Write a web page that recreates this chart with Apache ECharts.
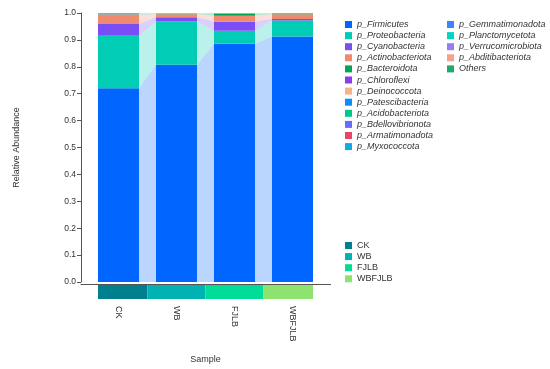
<!DOCTYPE html>
<html><head><meta charset="utf-8">
<script src="https://cdn.jsdelivr.net/npm/echarts@6/dist/echarts.min.js"></script>
<style>html,body{margin:0;padding:0;background:#fff}#c{width:550px;height:369px}</style>
</head><body><div id="c"></div>
<script>
var samples = ['CK','WB','FJLB','WBFJLB'];
var sampleColors = ['#00808F','#00B2B2','#00DD99','#8DE36E'];
var phyla = ['p_Firmicutes','p_Proteobacteria','p_Cyanobacteria','p_Actinobacteriota','p_Bacteroidota','p_Chloroflexi','p_Deinococcota','p_Patescibacteria','p_Acidobacteriota','p_Bdellovibrionota','p_Armatimonadota','p_Myxococcota','p_Gemmatimonadota','p_Planctomycetota','p_Verrucomicrobiota','p_Abditibacteriota','Others'];
var phylaColors = ['#0066FF','#00CDB4','#7A4DF5','#F08A6E','#00A651','#8E3BEA','#F5B38C','#0A8EFF','#00C887','#6A6AFF','#E8456B','#13A8E8','#3D84FF','#00D4C2','#9A7BF5','#F5A090','#1DAA6A'];
// values per phylum, in sample order CK, WB, FJLB, WBFJLB
var Firmicutes        = [0.720, 0.808, 0.886, 0.913];
var Proteobacteria    = [0.195, 0.160, 0.048, 0.059];
var Cyanobacteria     = [0.044, 0.016, 0.034, 0.006];
var Actinobacteriota  = [0.033, 0.011, 0.022, 0.017];
var Bacteroidota      = [0.002, 0.002, 0.007, 0.003];
var Chloroflexi       = [0.001, 0.0005, 0.0005, 0.0003];
var Deinococcota      = [0.001, 0.0004, 0.0003, 0.0002];
var Patescibacteria   = [0.0005, 0.0003, 0.0003, 0.0002];
var Acidobacteriota   = [0.0008, 0.0003, 0.0003, 0.0002];
var Bdellovibrionota  = [0.0005, 0.0002, 0.0002, 0.0001];
var Armatimonadota    = [0.0003, 0.0002, 0.0001, 0.0001];
var Myxococcota       = [0.0004, 0.0002, 0.0002, 0.0001];
var Gemmatimonadota   = [0.0003, 0.0002, 0.0001, 0.0001];
var Planctomycetota   = [0.0003, 0.0001, 0.0001, 0.0001];
var Verrucomicrobiota = [0.0002, 0.0001, 0.0001, 0.0001];
var Abditibacteriota  = [0.0002, 0.0001, 0.0001, 0.0001];
var Others            = [0.0013, 0.0003, 0.0005, 0.0003];
var yTicks = [0.0,0.1,0.2,0.3,0.4,0.5,0.6,0.7,0.8,0.9,1.0];

var values = [Firmicutes,Proteobacteria,Cyanobacteria,Actinobacteriota,Bacteroidota,Chloroflexi,Deinococcota,Patescibacteria,Acidobacteriota,Bdellovibrionota,Armatimonadota,Myxococcota,Gemmatimonadota,Planctomycetota,Verrucomicrobiota,Abditibacteriota,Others];

// cumulative bottoms per phylum per sample
var bottoms = [];
var run = samples.map(function(){return 0;});
for (var p=0;p<values.length;p++){
  bottoms.push(run.slice());
  for (var s=0;s<samples.length;s++) run[s]+=values[p][s];
}
var BAR_FRAC = 0.707;
var FONT = 'Liberation Sans, Arial, sans-serif';

function hexA(hex,a){var n=parseInt(hex.slice(1),16);return 'rgba('+((n>>16)&255)+','+((n>>8)&255)+','+(n&255)+','+a+')';}

var series = [];
// bands between bars
var bandData=[];
for (var g=0; g<samples.length-1; g++) for (var p2=0;p2<phyla.length;p2++) bandData.push([g,p2]);
series.push({
  type:'custom', name:'bands', silent:true, z:1, data:bandData, clip:false,
  renderItem:function(params, api){
    var g=api.value(0), p=api.value(1);
    var catW=api.size([1,0])[0], half=catW*BAR_FRAC/2;
    var a0=api.coord([g,bottoms[p][g]]), a1=api.coord([g,bottoms[p][g]+values[p][g]]);
    var b0=api.coord([g+1,bottoms[p][g+1]]), b1=api.coord([g+1,bottoms[p][g+1]+values[p][g+1]]);
    var xl=a0[0]+half, xr=b0[0]-half;
    return {type:'polygon', shape:{points:[[xl,a0[1]],[xl,a1[1]],[xr,b1[1]],[xr,b0[1]]]},
      style:{fill:hexA(phylaColors[p],0.27), stroke:null}};
  }
});
phyla.forEach(function(name,i){
  series.push({type:'bar', name:name, stack:'all', barWidth:(BAR_FRAC*100)+'%', z:2,
    data:values[i], itemStyle:{color:phylaColors[i]}, emphasis:{disabled:true}});
});
samples.forEach(function(name,i){
  series.push({type:'custom', name:name, clip:false, z:3, itemStyle:{color:sampleColors[i]},
    data:[[i,0]],
    renderItem:function(params, api){
      var c=api.coord([api.value(0),0]);
      var catW=api.size([1,0])[0], half=catW*BAR_FRAC/2;
      var l = (i===0)? c[0]-half : c[0]-catW/2;
      var r = (i===samples.length-1)? c[0]+half : c[0]+catW/2;
      return {type:'rect', shape:{x:l,y:c[1]+2,width:r-l,height:15}, style:{fill:sampleColors[i]}};
    }});
});

var legendBase = {orient:'vertical', itemWidth:7, itemHeight:7, itemGap:2.1, padding:0, icon:'rect',
  textStyle:{fontSize:9, fontStyle:'italic', color:'#333', fontFamily:FONT}, selectedMode:false};

var chart = echarts.init(document.getElementById('c'), null, {renderer:'canvas'});
chart.setOption({
  animation:false,
  grid:{left:89.5, top:13, width:232, height:271},
  xAxis:{type:'category', data:samples,
    axisLine:{show:false}, axisTick:{show:false},
    axisLabel:{rotate:-90, margin:24, fontSize:9, color:'#333', fontFamily:FONT},
    name:'Sample', nameLocation:'middle', nameGap:73, nameTextStyle:{fontSize:9, color:'#333', fontFamily:FONT}},
  yAxis:{type:'value', min:0, max:1, interval:0.1, offset:8.5,
    axisLine:{show:true, lineStyle:{color:'#555'}}, axisTick:{show:true, length:4, lineStyle:{color:'#555'}},
    splitLine:{show:false},
    axisLabel:{fontSize:8.5, color:'#333', margin:5, fontFamily:FONT, formatter:function(v){return v.toFixed(1);}},
    name:'Relative Abundance', nameLocation:'middle', nameGap:60, nameTextStyle:{fontSize:9, color:'#333', fontFamily:FONT}},
  legend:[
    Object.assign({}, legendBase, {left:345, top:20, data:phyla.slice(0,12)}),
    Object.assign({}, legendBase, {left:447, top:20, data:phyla.slice(12)}),
    Object.assign({}, legendBase, {left:345, top:241, data:samples, textStyle:{fontSize:9, color:'#333', fontFamily:FONT}})
  ],
  graphic:[{type:'line', shape:{x1:80.5, y1:284.5, x2:331, y2:284.5}, style:{stroke:'#555', lineWidth:1}, z:10}],
  series:series
});
</script></body></html>
